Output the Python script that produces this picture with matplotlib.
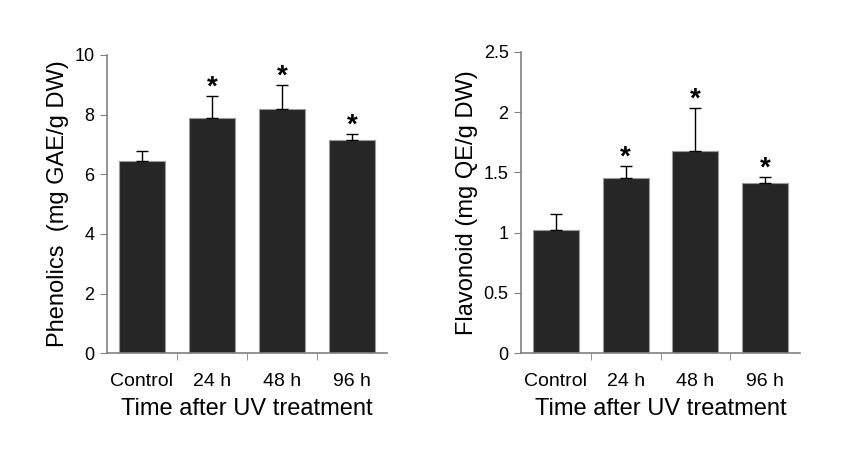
import numpy as np
import matplotlib
matplotlib.use('Agg')
import matplotlib.pyplot as plt

plt.rcParams['font.family'] = ['Liberation Sans', 'DejaVu Sans']

# data
groups = ['Control', '24 h', '48 h', '96 h']
phenolics = [6.45, 7.88, 8.2, 7.15]
phenolics_err = [0.32, 0.74, 0.78, 0.2]
flavonoid = [1.02, 1.45, 1.68, 1.41]
flavonoid_err = [0.135, 0.10, 0.35, 0.055]
signif = [False, True, True, True]

bar_color = '#262626'
spine_color = '#808080'

fig = plt.figure(figsize=(8.55, 4.5), dpi=100)
ax1 = fig.add_axes([0.1251, 0.2149, 0.3275, 0.663])
ax2 = fig.add_axes([0.6094, 0.2149, 0.3263, 0.6702])


def draw_panel(ax, vals, errs, ylim, yticks, ylabel, star_off):
    x = np.arange(len(vals))
    ax.bar(x, vals, width=0.66, color=bar_color, edgecolor='#9a9a9a', linewidth=0.8, zorder=2)
    ax.errorbar(x, vals, yerr=[np.zeros(len(errs)), errs], fmt='none',
                ecolor='black', elinewidth=1, capsize=4, capthick=1, zorder=3)
    for xi, v, e, s in zip(x, vals, errs, signif):
        if s:
            ax.annotate('*', (xi, v + e), xytext=(0, star_off), textcoords='offset points',
                        ha='center', va='baseline', fontsize=20, fontweight='bold')
    ax.set_xlim(-0.5, len(vals) - 0.5)
    ax.set_ylim(*ylim)
    ax.set_yticks(yticks)
    ax.set_yticklabels([f'{t:g}' for t in yticks], fontsize=13)
    ax.set_xticks(x)
    ax.set_xticklabels(groups, fontsize=14)
    ax.tick_params(axis='x', which='major', length=0, pad=14)
    ax.set_xticks(x[:-1] + 0.5, minor=True)
    ax.tick_params(axis='x', which='minor', length=5, color=spine_color, direction='out')
    ax.tick_params(axis='y', length=5, color=spine_color, direction='out', pad=4)
    for side in ['top', 'right']:
        ax.spines[side].set_visible(False)
    for side in ['left', 'bottom']:
        ax.spines[side].set_color(spine_color)
        ax.spines[side].set_linewidth(1.2)
    ax.set_xlabel('Time after UV treatment', fontsize=17, labelpad=6)
    ax.set_ylabel(ylabel, fontsize=17, labelpad=4)


draw_panel(ax1, phenolics, phenolics_err, (0, 10), [0, 2, 4, 6, 8, 10],
           'Phenolics  (mg GAE/g DW)', 1)
draw_panel(ax2, flavonoid, flavonoid_err, (0, 2.5), [0, 0.5, 1, 1.5, 2, 2.5],
           'Flavonoid (mg QE/g DW)', 1)

fig.savefig('out.png', dpi=100)
